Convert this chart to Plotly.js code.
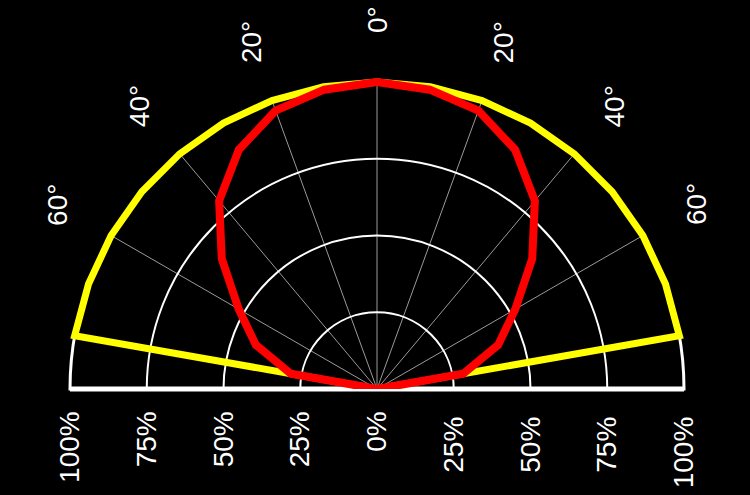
<!DOCTYPE html>
<html>
<head>
<meta charset="utf-8">
<script src="https://cdn.plot.ly/plotly-3.0.1.min.js"></script>
<style>html,body{margin:0;padding:0;background:#000;}#chart{width:750px;height:495px;}</style>
</head>
<body>
<div id="chart"></div>
<script>
// Angles in degrees (0 = on-axis, negative = left half, positive = right half)
var thetaDeg = [-90,-80,-70,-60,-50,-40,-30,-20,-10,0,10,20,30,40,50,60,70,80,90];
// Relative intensity, percent
var yellowR = [0,100,100,100,100,100,100,100,100,100,100,100,100,100,100,100,100,100,0];
var redR    = [0,28.5,42,52,66,80,90,96.5,99,100,99,96.5,90,80,66,52,42,28.5,0];

// Angular ticks (spokes + labels)
var angTickVals = [-60,-40,-20,0,20,40,60];
var angTickText = ['60°','40°','20°','0°','20°','40°','60°'];
// Radial ticks, left half and right half
var radTickVals = [0,25,50,75,100];
var radTickText = ['0%','25%','50%','75%','100%'];
var radTickValsRight = [25,50,75,100];
var radTickTextRight = ['25%','50%','75%','100%'];

var font = {family:'Liberation Sans, Arial, sans-serif', size:28, color:'#ffffff'};

// Geometry (px): grid radius, plot-area half-width, label radius
var gridR = 307, areaR = 320, labelR = 369;
var rMaxData = 100 * areaR / gridR;   // data frame is a bit larger so thick lines at 100% are not clipped
var gridDom = {x:[(areaR - gridR) / (2 * areaR), 1 - (areaR - gridR) / (2 * areaR)], y:[0, gridR / areaR]};
var fullDom = {x:[0,1], y:[0,1]};

var carrier = function (sp) {
  return {type:'scatterpolar', subplot:sp, mode:'lines', theta:[0], r:[0],
          line:{color:'rgba(0,0,0,0)', width:0}, hoverinfo:'skip', showlegend:false};
};

var traces = [
  carrier('polar'),
  carrier('polar2'),
  {type:'scatterpolar', subplot:'polar3', mode:'lines', theta:thetaDeg, r:yellowR,
   line:{color:'#ffff00', width:7}, hoverinfo:'skip', showlegend:false},
  {type:'scatterpolar', subplot:'polar3', mode:'lines', theta:thetaDeg, r:redR,
   line:{color:'#ff0000', width:8}, hoverinfo:'skip', showlegend:false}
];

// Angular labels outside the rim, rotated like the reference (centre of half-disk = paper (0.5, 0)).
var annotations = angTickVals.map(function (v, i) {
  var a = v * Math.PI / 180;
  return {
    xref:'paper', yref:'paper',
    x: 0.5 + (labelR / (2 * areaR)) * Math.sin(a),
    y: (labelR / areaR) * Math.cos(a),
    text: angTickText[i], textangle:-90, showarrow:false,
    xanchor:'center', yanchor:'middle', font:font
  };
});

var angCommon = {type:'linear', thetaunit:'degrees', direction:'clockwise', rotation:90};

var layout = {
  width:750, height:495,
  paper_bgcolor:'#000', plot_bgcolor:'#000',
  margin:{l:377 - areaR, r:750 - 377 - areaR, t:389 - areaR, b:106},
  showlegend:false,
  font:font,
  annotations: annotations,
  // grid, rim and left-hand radial labels
  polar:{
    domain:gridDom, sector:[0,180], bgcolor:'#000',
    angularaxis:Object.assign({}, angCommon, {
      tickmode:'array', tickvals:angTickVals, ticktext:angTickText,
      showticklabels:false, ticks:'',
      showgrid:true, gridcolor:'#9a9a9a', gridwidth:1,
      showline:true, linecolor:'#ffffff', linewidth:3
    }),
    radialaxis:{
      range:[0,100], angle:180, side:'counterclockwise',
      tickmode:'array', tickvals:radTickVals, ticktext:radTickText,
      tickangle:90, ticks:'outside', ticklen:10, tickcolor:'rgba(0,0,0,0)', tickfont:font,
      showgrid:true, gridcolor:'#ffffff', gridwidth:2,
      showline:true, linecolor:'#ffffff', linewidth:5
    }
  },
  // right-hand radial labels
  polar2:{
    domain:gridDom, sector:[0,180], bgcolor:'rgba(0,0,0,0)',
    angularaxis:Object.assign({}, angCommon, {visible:false}),
    radialaxis:{
      range:[0,100], angle:0, side:'clockwise',
      tickmode:'array', tickvals:radTickValsRight, ticktext:radTickTextRight,
      tickangle:-90, ticks:'outside', ticklen:14, tickcolor:'rgba(0,0,0,0)', tickfont:font,
      showgrid:false,
      showline:true, linecolor:'#ffffff', linewidth:5
    }
  },
  // data curves on top
  polar3:{
    domain:fullDom, sector:[0,180], bgcolor:'rgba(0,0,0,0)',
    angularaxis:Object.assign({}, angCommon, {visible:false}),
    radialaxis:{range:[0, rMaxData], visible:false}
  }
};

Plotly.newPlot('chart', traces, layout, {staticPlot:true, displayModeBar:false});
</script>
</body>
</html>
